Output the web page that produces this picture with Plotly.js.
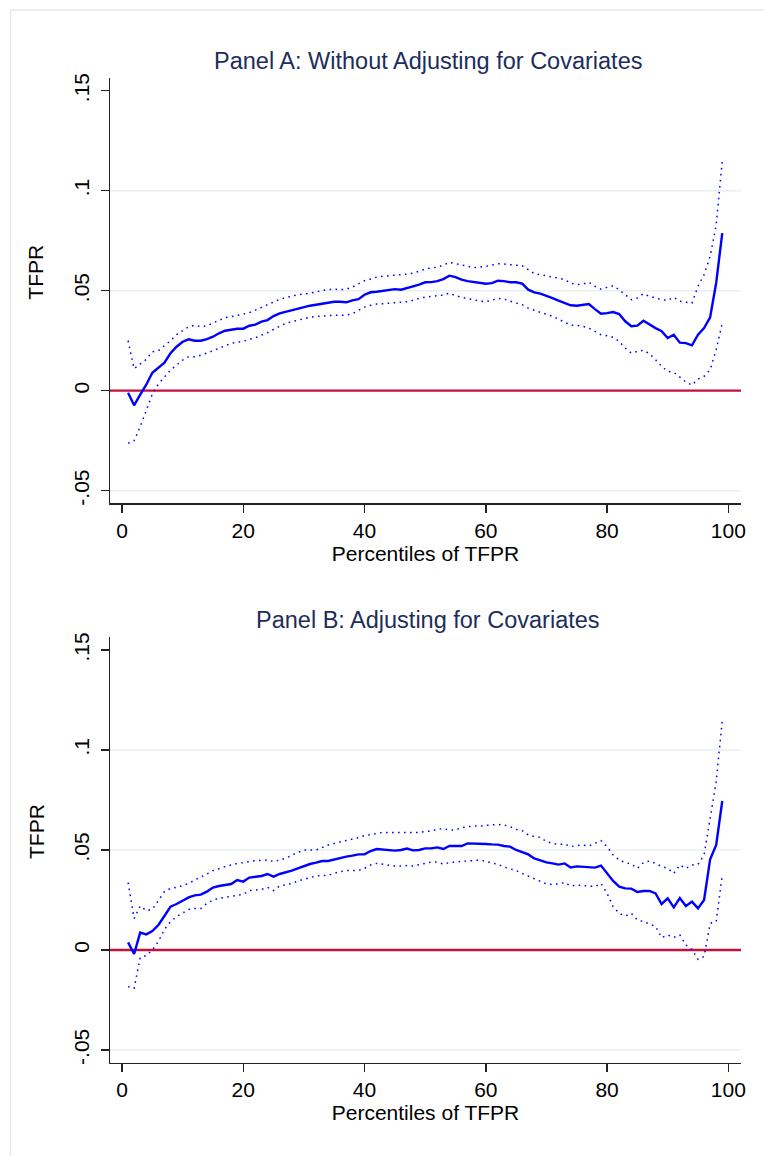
<!DOCTYPE html>
<html>
<head>
<meta charset="utf-8">
<script src="https://cdn.plot.ly/plotly-3.0.1.min.js"></script>
<style>
  html, body { margin: 0; padding: 0; background: #ffffff; }
  #chart { width: 764px; height: 1156px; }
</style>
</head>
<body>
<div id="chart"></div>
<script>
// ---------------- data ----------------
const percentiles = [1,2,3,4,5,6,7,8,9,10,11,12,13,14,15,16,17,18,19,20,
  21,22,23,24,25,26,27,28,29,30,31,32,33,34,35,36,37,38,39,40,
  41,42,43,44,45,46,47,48,49,50,51,52,53,54,55,56,57,58,59,60,
  61,62,63,64,65,66,67,68,69,70,71,72,73,74,75,76,77,78,79,80,
  81,82,83,84,85,86,87,88,89,90,91,92,93,94,95,96,97,98,99];

// Panel A: without adjusting for covariates
const panelA_estimate = [-0.001,-0.0073,-0.002,0.003,0.009,0.0117,0.014,0.0187,0.022,0.0245,
  0.0257,0.025,0.025,0.0258,0.027,0.0287,0.030,0.0305,0.031,0.031,
  0.0325,0.033,0.0345,0.0353,0.0373,0.0387,0.0395,0.0403,0.041,0.042,
  0.0425,0.043,0.0435,0.0442,0.0445,0.0445,0.0442,0.0452,0.0458,0.048,
  0.0492,0.0495,0.05,0.0505,0.0508,0.0505,0.0512,0.0522,0.053,0.0542,
  0.0543,0.0548,0.0558,0.0575,0.0568,0.0555,0.0548,0.0543,0.0538,0.0535,
  0.0538,0.055,0.0548,0.0542,0.0542,0.0535,0.0505,0.0492,0.0485,0.0475,
  0.0463,0.045,0.0438,0.0427,0.0425,0.043,0.0433,0.0408,0.0385,0.0388,
  0.0393,0.0383,0.0347,0.0322,0.0325,0.035,0.033,0.0313,0.0297,0.0263,
  0.028,0.024,0.0238,0.0227,0.028,0.0313,0.0367,0.054,0.0788];
const panelA_upper = [0.025,0.011,0.0133,0.0157,0.0195,0.020,0.0225,0.025,0.028,0.030,
  0.032,0.0327,0.032,0.0325,0.0337,0.0353,0.0365,0.037,0.0377,0.0383,
  0.039,0.0403,0.0417,0.043,0.0445,0.0457,0.0465,0.0473,0.048,0.0483,
  0.0488,0.0493,0.0502,0.0505,0.0508,0.0505,0.0508,0.0518,0.0533,0.055,
  0.0558,0.0568,0.0572,0.0575,0.0577,0.0578,0.0583,0.0588,0.0597,0.0608,
  0.0613,0.0618,0.0628,0.0642,0.0635,0.0627,0.0622,0.0615,0.0617,0.0622,
  0.0628,0.0635,0.0633,0.063,0.063,0.0625,0.0605,0.0585,0.058,0.0575,
  0.0568,0.0563,0.0555,0.0538,0.053,0.0533,0.0542,0.0522,0.0508,0.0518,
  0.0525,0.0505,0.048,0.0455,0.0463,0.0485,0.0472,0.0463,0.0455,0.0452,
  0.0467,0.0447,0.0442,0.0438,0.0522,0.058,0.0672,0.083,0.1147];
const panelA_lower = [-0.0263,-0.025,-0.018,-0.0097,-0.0017,0.0033,0.0067,0.0103,0.0128,0.0153,
  0.017,0.017,0.0177,0.0187,0.020,0.0212,0.0225,0.0237,0.0243,0.0247,
  0.0257,0.0265,0.0278,0.029,0.0307,0.032,0.0337,0.0345,0.0353,0.036,
  0.0367,0.0372,0.0375,0.0375,0.0377,0.0377,0.0378,0.0385,0.0402,0.0418,
  0.0427,0.0433,0.0435,0.0437,0.0438,0.044,0.0445,0.0452,0.0462,0.0468,
  0.0472,0.0475,0.0478,0.0488,0.0475,0.0467,0.0462,0.0455,0.0448,0.0445,
  0.0452,0.0462,0.0458,0.0447,0.0438,0.043,0.0413,0.0402,0.0392,0.038,
  0.0372,0.0358,0.0342,0.0327,0.0327,0.0322,0.0313,0.0297,0.028,0.0275,
  0.0267,0.0247,0.0213,0.0188,0.0197,0.0202,0.0185,0.0155,0.0122,0.0097,
  0.0092,0.0068,0.0043,0.0028,0.0058,0.0072,0.0105,0.0205,0.0338];

// Panel B: adjusting for covariates
const panelB_estimate = [0.0038,-0.002,0.0087,0.0078,0.0095,0.0125,0.017,0.0217,0.023,0.0245,
  0.0263,0.0273,0.0277,0.0292,0.0312,0.032,0.0325,0.033,0.035,0.0342,
  0.0362,0.0367,0.037,0.038,0.0367,0.038,0.0387,0.0397,0.0408,0.042,
  0.043,0.0437,0.0445,0.0445,0.0453,0.0462,0.0467,0.0472,0.0478,0.0478,
  0.0495,0.0505,0.0503,0.05,0.0497,0.05,0.0507,0.0498,0.05,0.0508,
  0.0508,0.0513,0.0505,0.052,0.052,0.052,0.0533,0.0533,0.0532,0.053,
  0.0528,0.0527,0.052,0.0517,0.05,0.0487,0.0478,0.0458,0.0447,0.0438,
  0.0433,0.0427,0.0433,0.0413,0.0418,0.0415,0.0412,0.0412,0.0422,0.0383,
  0.0345,0.0317,0.0308,0.0307,0.029,0.0295,0.0295,0.0283,0.023,0.0258,
  0.0213,0.026,0.022,0.0242,0.0208,0.025,0.0453,0.0525,0.0745];
const panelB_upper = [0.0337,0.0158,0.022,0.0197,0.0203,0.0247,0.0292,0.0308,0.0313,0.0322,
  0.0333,0.035,0.0363,0.038,0.0397,0.0408,0.0417,0.0425,0.0433,0.0437,
  0.0442,0.0447,0.0447,0.045,0.0442,0.045,0.0458,0.0475,0.0487,0.05,
  0.05,0.05,0.0512,0.0525,0.0533,0.054,0.0547,0.0553,0.0562,0.0572,
  0.0578,0.0583,0.0588,0.0588,0.0587,0.0587,0.0588,0.0588,0.0588,0.0592,
  0.0595,0.0603,0.0607,0.06,0.06,0.0612,0.0617,0.062,0.062,0.0622,
  0.0625,0.0628,0.0625,0.0617,0.0603,0.0597,0.0575,0.0567,0.0563,0.0542,
  0.0533,0.0528,0.053,0.0517,0.0522,0.0525,0.052,0.0533,0.0547,0.0517,
  0.0475,0.045,0.0437,0.043,0.0408,0.0437,0.0445,0.0433,0.0417,0.0408,
  0.0383,0.0425,0.0408,0.0425,0.0428,0.0475,0.065,0.0842,0.1147];
const panelB_lower = [-0.0183,-0.0192,-0.0037,-0.0028,0.0,0.0042,0.0103,0.0142,0.0167,0.0183,
  0.0203,0.0208,0.0208,0.0233,0.025,0.0258,0.0263,0.0267,0.0272,0.0278,
  0.0297,0.03,0.0303,0.0313,0.0297,0.032,0.0325,0.0333,0.0345,0.0353,
  0.0363,0.037,0.0373,0.0373,0.0383,0.0392,0.0397,0.0397,0.0397,0.0408,
  0.0425,0.0433,0.0428,0.0422,0.042,0.042,0.0422,0.042,0.0425,0.0433,
  0.044,0.044,0.043,0.0437,0.044,0.0442,0.0443,0.0445,0.045,0.0443,
  0.0437,0.0428,0.0415,0.0405,0.0397,0.0383,0.037,0.0357,0.0342,0.033,
  0.0327,0.033,0.0338,0.032,0.0325,0.0322,0.0317,0.0317,0.0333,0.0283,
  0.0217,0.0183,0.017,0.0183,0.015,0.0142,0.013,0.0117,0.0062,0.0075,
  0.0063,0.0075,0.0025,0.0003,-0.0047,-0.0033,0.0133,0.0142,0.0375];

const panelTitles = ["Panel A: Without Adjusting for Covariates", "Panel B: Adjusting for Covariates"];
const xTickVals = [0, 20, 40, 60, 80, 100];
const xTickText = ["0", "20", "40", "60", "80", "100"];
const yTickVals = [-0.05, 0, 0.05, 0.1, 0.15];
const yTickText = ["-.05", "0", ".05", ".1", ".15"];
const gridValues = [-0.05, 0.05, 0.1];
const referenceValue = 0;
const xTitle = "Percentiles of TFPR";
const yTitle = "TFPR";

// ---------------- styling ----------------
const FONT = "Liberation Sans, Arial, Helvetica, sans-serif";
const BLUE = "#0000ff";
const RED = "#c4103c";
const GRID = "#e8eff1";
const TITLE_COLOR = "#1c2d5c";
const AXIS_COLOR = "#222222";

function band(x, y, xa, ya) {
  return { x: x, y: y, xaxis: xa, yaxis: ya, type: "scatter", mode: "lines",
    line: { color: BLUE, width: 1.5, dash: "1.6px,4.4px" }, hoverinfo: "skip", showlegend: false };
}
function est(x, y, xa, ya) {
  return { x: x, y: y, xaxis: xa, yaxis: ya, type: "scatter", mode: "lines",
    line: { color: BLUE, width: 2.4 }, showlegend: false };
}

const traces = [
  band(percentiles, panelA_upper, "x", "y"),
  band(percentiles, panelA_lower, "x", "y"),
  est(percentiles, panelA_estimate, "x", "y"),
  band(percentiles, panelB_upper, "x2", "y2"),
  band(percentiles, panelB_lower, "x2", "y2"),
  est(percentiles, panelB_estimate, "x2", "y2")
];

const W = 764, H = 1156;
const xDomain = [110 / W, 741 / W];
const yDomainA = [1 - 503.3 / H, 1 - 78.1 / H];
const yDomainB = [1 - 1062.6 / H, 1 - 637.4 / H];
const xRange = [-1.98, 102.09];
const yRange = [-0.0563, 0.1563];

function xAxis(anchor) {
  return {
    domain: xDomain, range: xRange, anchor: anchor,
    tickmode: "array", tickvals: xTickVals, ticktext: xTickText,
    ticks: "outside", ticklen: 8, tickwidth: 1.5, tickcolor: AXIS_COLOR,
    showline: true, linecolor: AXIS_COLOR, linewidth: 1.5,
    showgrid: false, zeroline: false,
    tickfont: { family: FONT, size: 21, color: "#000" },
    title: { text: xTitle, font: { family: FONT, size: 21, color: "#000" }, standoff: 2 },
    fixedrange: true
  };
}
function yAxis(anchor, domain) {
  return {
    domain: domain, range: yRange, anchor: anchor,
    tickmode: "array", tickvals: yTickVals, ticktext: yTickText, tickangle: -90,
    ticks: "outside", ticklen: 8, tickwidth: 1.5, tickcolor: AXIS_COLOR,
    ticklabelstandoff: 3,
    showline: true, linecolor: AXIS_COLOR, linewidth: 1.5,
    showgrid: false, zeroline: false,
    tickfont: { family: FONT, size: 21, color: "#000" },
    fixedrange: true
  };
}

const shapes = [];
[["x", "y"], ["x2", "y2"]].forEach(function (p) {
  gridValues.forEach(function (g) {
    shapes.push({ type: "line", layer: "below", xref: p[0] + " domain", yref: p[1],
      x0: 0, x1: 1, y0: g, y1: g, line: { color: GRID, width: 1.5 } });
  });
  shapes.push({ type: "line", layer: "below", xref: p[0] + " domain", yref: p[1],
    x0: 0, x1: 1, y0: referenceValue, y1: referenceValue, line: { color: RED, width: 2.3 } });
});
// outer graph-region frame
shapes.push({ type: "rect", layer: "below", xref: "paper", yref: "paper",
  x0: 10.5 / W, x1: 1.02, y0: -0.02, y1: 1 - 10 / H,
  line: { color: "#e4ebee", width: 1.5 }, fillcolor: "rgba(0,0,0,0)" });

const annotations = [];
[["x", "y"], ["x2", "y2"]].forEach(function (p, i) {
  annotations.push({ text: panelTitles[i], xref: p[0] + " domain", yref: p[1] + " domain",
    x: 0.5, y: 1, xshift: 2, yshift: 17, xanchor: "center", yanchor: "middle", showarrow: false,
    font: { family: FONT, size: 23.5, color: TITLE_COLOR } });
  // y-axis title
  annotations.push({ text: yTitle, xref: "paper", yref: p[1] + " domain",
    x: 36 / W, y: 0.5, yshift: 18, xanchor: "center", yanchor: "middle", textangle: -90,
    showarrow: false, font: { family: FONT, size: 21, color: "#000" } });
});

const layout = {
  width: W, height: H,
  margin: { l: 0, r: 0, t: 0, b: 0, pad: 0 },
  paper_bgcolor: "#ffffff", plot_bgcolor: "#ffffff",
  showlegend: false,
  xaxis: xAxis("y"), yaxis: yAxis("x", yDomainA),
  xaxis2: xAxis("y2"), yaxis2: yAxis("x2", yDomainB),
  shapes: shapes, annotations: annotations
};

Plotly.newPlot("chart", traces, layout, { staticPlot: true, displayModeBar: false });
</script>
</body>
</html>
